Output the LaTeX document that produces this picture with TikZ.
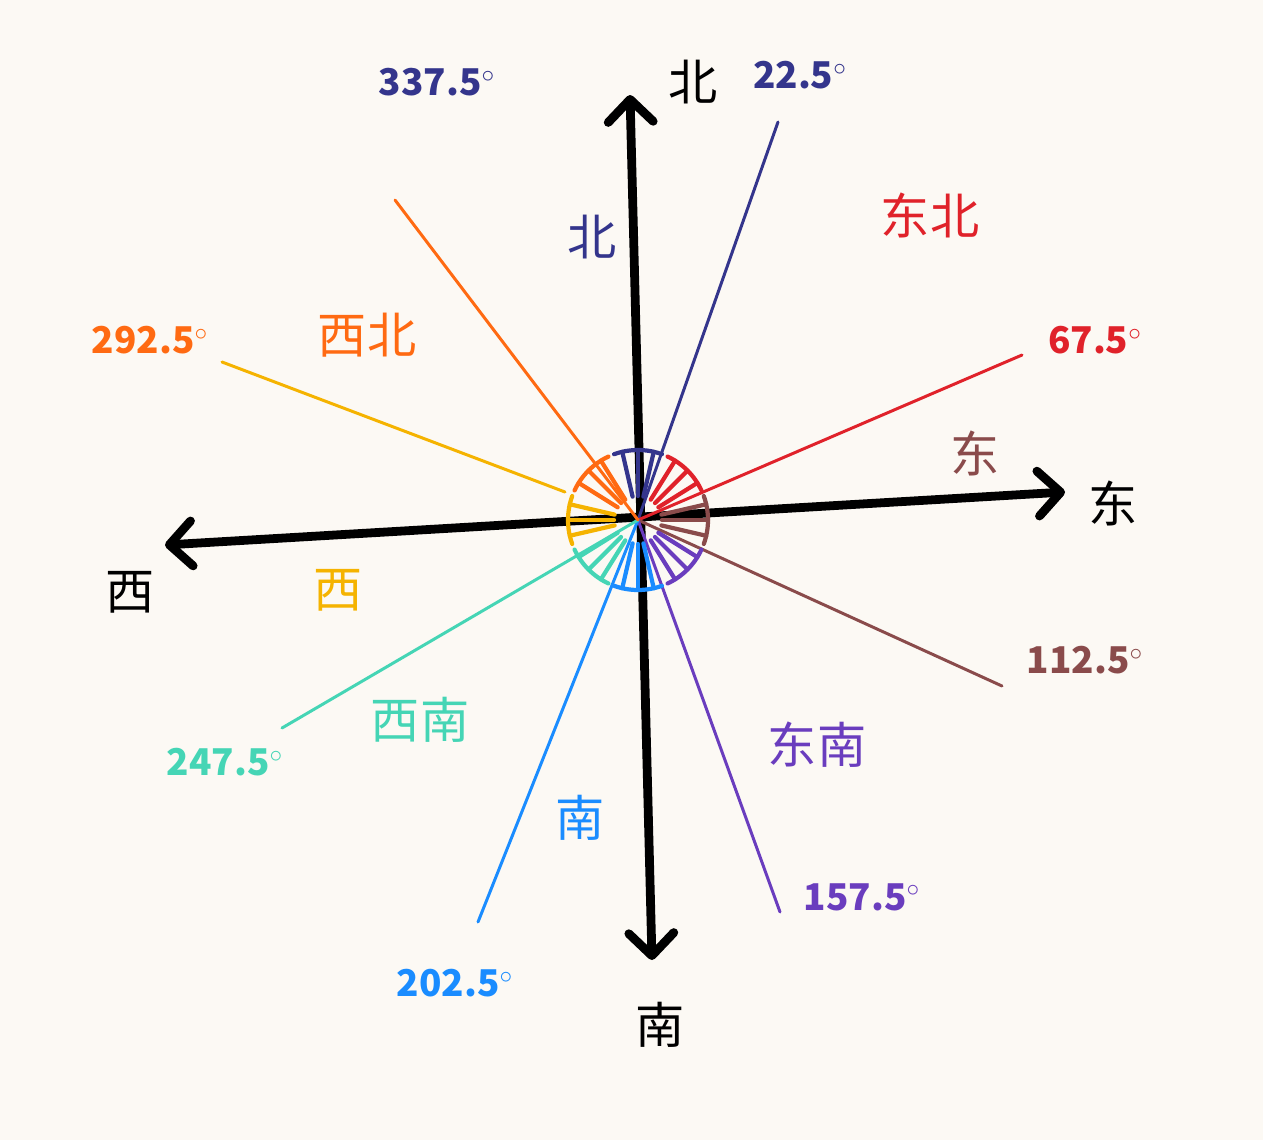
\documentclass[tikz,border=0pt]{standalone}
\usepackage{fontspec}
\setmainfont{Noto Sans CJK SC}
\usetikzlibrary{arrows.meta, calc}

\definecolor{paper}{HTML}{FCF9F4}
\definecolor{bei}{HTML}{34358C}
\definecolor{dongbei}{HTML}{E0222A}
\definecolor{dong}{HTML}{8A4B4B}
\definecolor{dongnan}{HTML}{6A3DBE}
\definecolor{nan}{HTML}{1A8CFF}
\definecolor{xinan}{HTML}{45D5B5}
\definecolor{xi}{HTML}{F5B300}
\definecolor{xibei}{HTML}{FF6A12}

\begin{document}
\begin{tikzpicture}[x=0.02cm, y=-0.02cm,
  >={Straight Barb[length=4.5mm, width=9mm, line cap=round, line join=round]},
  axis/.style={line width=5pt, line cap=round, <->},
  ray/.style={line width=1.7pt, line cap=round},
  hatch/.style={line width=2.4pt, line cap=round, line join=round},
  dirlabel/.style={font=\fontsize{28}{28}\selectfont},
  deglabel/.style={font=\bfseries\fontsize{21}{21}\selectfont}]
\fill[paper] (0,0) rectangle (1263,1140);
\useasboundingbox (0,0) rectangle (1263,1140);

\coordinate (o) at (638,520);

% axes
\coordinate (n) at (630,95);
\coordinate (s) at (652,960);
\coordinate (w) at (165,545);
\coordinate (e) at (1065,492);
\draw[axis] (s) -- (n);
\draw[axis] (w) -- (e);

% dividing rays
\coordinate (r22) at (778,122);
\coordinate (r67) at (1022,355);
\coordinate (r112) at (1002,686);
\coordinate (r157) at (780,912);
\coordinate (r202) at (478,922);
\coordinate (r247) at (282,728);
\coordinate (r292) at (222,362);
\coordinate (r337) at (395,200);
\coordinate (y0) at (565,492);
\draw[ray, bei] (o) -- (r22);
\draw[ray, dongbei] (o) -- (r67);
\draw[ray, dong] (o) -- (r112);
\draw[ray, dongnan] (o) -- (r157);
\draw[ray, nan] (o) -- (r202);
\draw[ray, xinan] (o) -- (r247);
\draw[ray, xi] (y0) -- (r292);
\draw[ray, xibei] (o) -- (r337);

% hatched sectors round the centre
\foreach \col/\ang in {bei/0, dongbei/45, dong/90, dongnan/135, nan/180, xinan/225, xi/270, xibei/315} {
  \draw[hatch, \col] ($(o)+(\ang-110:70)$) arc[start angle=\ang-110, end angle=\ang-70, radius=70];
  \foreach \k in {-13,0,13}
    \draw[hatch, \col] ($(o)+(\ang-90+\k:24)$) -- ($(o)+(\ang-90+\k:70)$);
}

% main directions
\node[dirlabel] (nlab) at (693,82) {北};
\node[dirlabel] (slab) at (660,1025) {南};
\node[dirlabel] (wlab) at (130,592) {西};
\node[dirlabel] (elab) at (1113,503) {东};

% sector names
\node[dirlabel, bei] (nsec) at (592,237) {北};
\node[dirlabel, dongbei] (nesec) at (930,215) {东北};
\node[dirlabel, dong] (esec) at (975,453) {东};
\node[dirlabel, dongnan] (sesec) at (817,745) {东南};
\node[dirlabel, nan] (ssec) at (580,818) {南};
\node[dirlabel, xinan] (swsec) at (420,720) {西南};
\node[dirlabel, xi] (wsec) at (338,590) {西};
\node[dirlabel, xibei] (nwsec) at (367,335) {西北};

% boundary angles
\node[deglabel, bei] (d337) at (437,82) {337.5$^{\circ}$};
\node[deglabel, bei] (d22) at (800,75) {22.5$^{\circ}$};
\node[deglabel, xibei] (d292) at (150,340) {292.5$^{\circ}$};
\node[deglabel, dongbei] (d67) at (1095,340) {67.5$^{\circ}$};
\node[deglabel, dong] (d112) at (1085,660) {112.5$^{\circ}$};
\node[deglabel, dongnan] (d157) at (862,897) {157.5$^{\circ}$};
\node[deglabel, nan] (d202) at (455,983) {202.5$^{\circ}$};
\node[deglabel, xinan] (d247) at (225,762) {247.5$^{\circ}$};
\end{tikzpicture}
\end{document}
